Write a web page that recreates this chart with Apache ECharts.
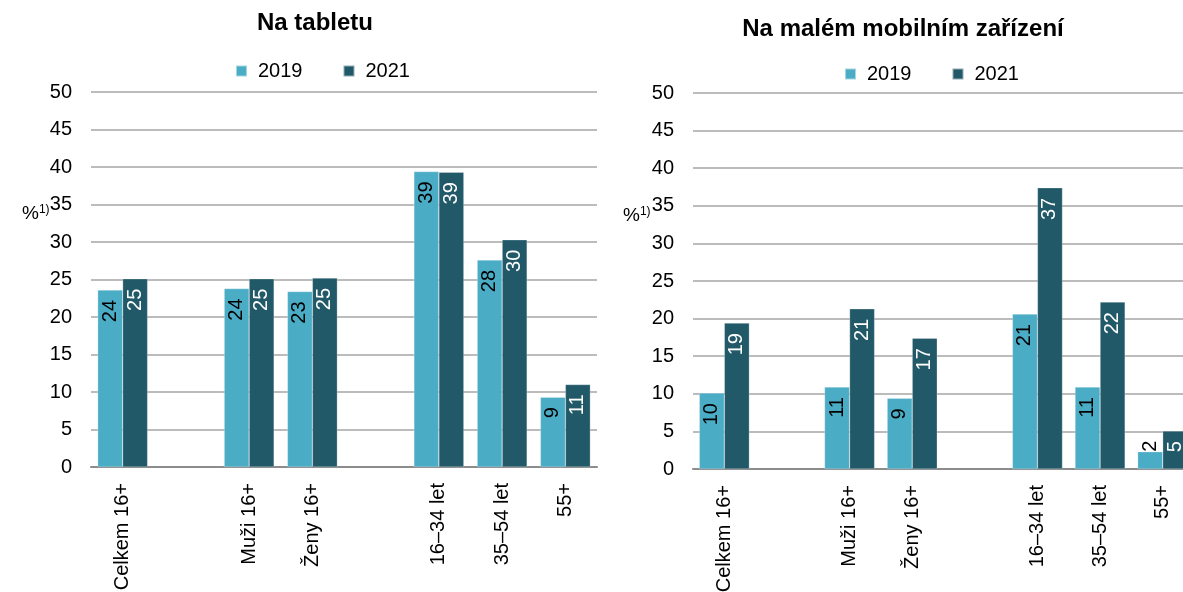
<!DOCTYPE html>
<html>
<head>
<meta charset="utf-8">
<script src="https://cdn.jsdelivr.net/npm/echarts@6/dist/echarts.min.js"></script>
<style>
html,body{margin:0;padding:0;background:#fff;}
#chart{width:1183px;height:592px;}
</style>
</head>
<body>
<div id="chart"></div>
<script>
const categories = ['Celkem 16+', '', 'Muži 16+', 'Ženy 16+', '', '16–34 let', '35–54 let', '55+'];
const seriesNames = ['2019', '2021'];
const tablet2019 = [23.6, null, 23.8, 23.4, null, 39.4, 27.6, 9.3];
const tablet2021 = [25.1, null, 25.1, 25.2, null, 39.3, 30.3, 11.0];
const mobile2019 = [10.1, null, 10.9, 9.4, null, 20.6, 10.9, 2.3];
const mobile2021 = [19.4, null, 21.3, 17.4, null, 37.4, 22.2, 5.05];
const titles = ['Na tabletu', 'Na malém mobilním zařízení'];
const yTicks = {min: 0, max: 50, interval: 5};

const FONT = 'Liberation Sans, Arial, sans-serif';
const FS = 20;
const C1 = '#4BACC6', C2 = '#215968';

function mkData(arr) {
  return arr.map(v => {
    if (v == null) return '-';
    if (v < 3) {
      return {value: v, label: {position: 'top', distance: 0, align: 'left', verticalAlign: 'middle', color: '#000'}};
    }
    return v;
  });
}

function mkSeries(name, arr, idx, color, labelColor, gap) {
  return {
    name: name, type: 'bar', xAxisIndex: idx, yAxisIndex: idx,
    data: mkData(arr),
    barGap: '0%', barCategoryGap: gap,
    itemStyle: {color: color, borderColor: 'rgba(255,255,255,0.5)', borderWidth: 0.5},
    label: {
      show: true, position: 'insideTop', rotate: 90, align: 'right', verticalAlign: 'middle',
      distance: 10, color: labelColor, fontSize: FS, fontFamily: FONT,
      formatter: p => Math.round(p.value)
    }
  };
}

const grids = [
  {left: 91, top: 92, width: 506, height: 375, outerBoundsMode: 'none', containLabel: false},
  {left: 693, top: 93, width: 501, height: 376, outerBoundsMode: 'none', containLabel: false}
];

function xAxis(i) {
  return {
    type: 'category', gridIndex: i, data: categories,
    axisLine: {lineStyle: {color: '#8c8c8c', width: 2}},
    axisTick: {show: false},
    axisLabel: {rotate: 90, interval: 0, margin: 16, color: '#000', fontSize: FS, fontFamily: FONT}
  };
}
function yAxis(i) {
  return {
    type: 'value', gridIndex: i, min: yTicks.min, max: yTicks.max, interval: yTicks.interval,
    axisLine: {show: false}, axisTick: {show: false},
    axisLabel: {margin: 19, color: '#000', fontSize: FS, fontFamily: FONT},
    splitLine: {lineStyle: {color: '#a6a6a6', width: 1.5}}
  };
}

function legend(left, top) {
  return {data: seriesNames, left: left, top: top, itemWidth: 11, itemHeight: 11, itemGap: 40,
    icon: 'rect', textStyle: {fontSize: FS, color: '#000', fontFamily: FONT, padding: [0, 0, 0, 6]}};
}

const pct = (left, top) => ({type: 'text', left: left, top: top, style: {
  text: '{a|%}{b|1)}', rich: {
    a: {fontSize: 19, fontFamily: FONT, fill: '#000'},
    b: {fontSize: 12, fontFamily: FONT, fill: '#000', verticalAlign: 'top', padding: [0, 0, 8, 0]}
  }}});

const titleText = (cx, y, text) => ({type: 'text', x: cx, y: y, style: {
  text: text, fontSize: 24, fontWeight: 'bold', fontFamily: FONT, fill: '#000',
  textAlign: 'center', textVerticalAlign: 'top'}});

const chart = echarts.init(document.getElementById('chart'), null, {renderer: 'canvas'});
chart.setOption({
  animation: false,
  backgroundColor: '#fff',
  legend: [legend(230, 56), legend(839, 59)],
  graphic: [titleText(315, 11, titles[0]), titleText(903, 17, titles[1]), pct(22, 204), pct(623, 206)],
  grid: grids,
  xAxis: [xAxis(0), xAxis(1)],
  yAxis: [yAxis(0), yAxis(1)],
  series: [
    mkSeries(seriesNames[0], tablet2019, 0, C1, '#000', '21%'),
    mkSeries(seriesNames[1], tablet2021, 0, C2, '#fff', '21%'),
    mkSeries(seriesNames[0], mobile2019, 1, C1, '#000', '20%'),
    mkSeries(seriesNames[1], mobile2021, 1, C2, '#fff', '20%')
  ]
});
</script>
</body>
</html>
